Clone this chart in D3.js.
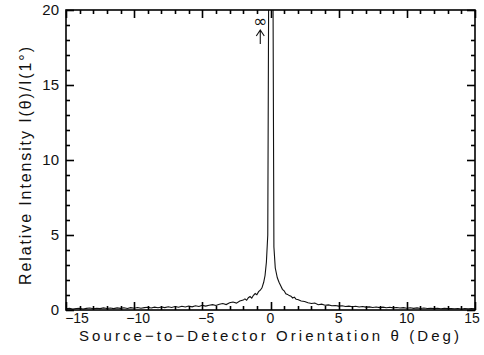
<!DOCTYPE html>
<html>
<head>
<meta charset="utf-8">
<script src="https://cdn.jsdelivr.net/npm/d3@7"></script>
</head>
<body style="margin:0">
<svg id="chart" width="484" height="355"></svg>
<script>
// angle (deg) and relative intensity
var theta = [
  -15, -14.75, -14.5, -14.25, -14, -13.75, -13.5, -13.25, -13, -12.75, -12.5, -12.25,
  -12, -11.75, -11.5, -11.25, -11, -10.75, -10.5, -10.25, -10, -9.75, -9.5, -9.25,
  -9, -8.75, -8.5, -8.25, -8, -7.75, -7.5, -7.25, -7, -6.75, -6.5, -6.25,
  -6, -5.75, -5.5, -5.25, -5, -4.75, -4.5, -4.25, -4, -3.75, -3.5, -3.25,
  -3, -2.75, -2.5, -2.25, -2, -1.875, -1.75, -1.625, -1.5, -1.375, -1.25, -1.125,
  -1, -0.875, -0.75, -0.625, -0.5, -0.4, -0.3, -0.2, -0.1,
  0.15, 0.25, 0.35, 0.5, 0.625, 0.75, 0.875, 1, 1.125, 1.25, 1.375, 1.5, 1.625, 1.75, 1.875,
  2, 2.25, 2.5, 2.75, 3, 3.25, 3.5, 3.75, 4, 4.25, 4.5, 4.75,
  5, 5.25, 5.5, 5.75, 6, 6.25, 6.5, 6.75, 7, 7.25, 7.5, 7.75,
  8, 8.25, 8.5, 8.75, 9, 9.25, 9.5, 9.75, 10, 10.25, 10.5, 10.75,
  11, 11.25, 11.5, 11.75, 12, 12.25, 12.5, 12.75, 13, 13.25, 13.5, 13.75,
  14, 14.25, 14.5, 14.75, 15
];
var intensity = [
  0.08, 0.11, 0.06, 0.10, 0.12, 0.07, 0.11, 0.13, 0.08, 0.12, 0.09, 0.14,
  0.10, 0.13, 0.09, 0.14, 0.11, 0.15, 0.10, 0.16, 0.12, 0.17, 0.12, 0.16,
  0.18, 0.13, 0.19, 0.15, 0.20, 0.16, 0.22, 0.17, 0.23, 0.18, 0.25, 0.20,
  0.27, 0.21, 0.28, 0.23, 0.31, 0.26, 0.32, 0.36, 0.30, 0.38, 0.43, 0.36,
  0.48, 0.53, 0.46, 0.60, 0.66, 0.74, 0.65, 0.82, 0.90, 0.79, 0.98, 1.10,
  1.02, 1.22, 1.32, 1.48, 1.85, 2.30, 3.20, 5.00, 30,
  30, 4.20, 2.80, 2.15, 1.85, 1.62, 1.38, 1.28, 1.08, 1.04, 0.96, 0.92, 0.80, 0.86, 0.72,
  0.70, 0.60, 0.57, 0.48, 0.43, 0.47, 0.35, 0.39, 0.32, 0.34, 0.28, 0.30,
  0.26, 0.28, 0.23, 0.26, 0.22, 0.25, 0.20, 0.23, 0.19, 0.21, 0.17, 0.20,
  0.16, 0.19, 0.15, 0.18, 0.14, 0.17, 0.13, 0.16, 0.12, 0.15, 0.11, 0.14,
  0.10, 0.13, 0.10, 0.12, 0.09, 0.12, 0.08, 0.11, 0.09, 0.10, 0.08, 0.10,
  0.07, 0.09, 0.08, 0.10, 0.08
];
var xMajor = [-15, -10, -5, 0, 5, 10, 15];
var yMajor = [0, 5, 10, 15, 20];

const svg = d3.select('#chart');
const x = d3.scaleLinear().domain([-15, 15]).range([66, 475]);
const y = d3.scaleLinear().domain([0, 20]).range([310, 10]);
const font = '"Liberation Sans", Arial, sans-serif';

const xMinor = d3.range(-15, 16, 1).filter(v => v % 5 !== 0);
const yMinor = d3.range(0, 21, 1).filter(v => v % 5 !== 0);

const pLeft = 66, pRight = 475, pBottom = 310, pTop = 10;

svg.append('defs').append('clipPath').attr('id', 'plotclip')
  .append('rect')
    .attr('x', pLeft).attr('y', pTop)
    .attr('width', pRight - pLeft).attr('height', pBottom - pTop);

// curve, cut at the top of the frame (the peak runs off to infinity)
const data = theta.map((t, i) => ({t: t, v: intensity[i]}));
svg.append('path')
  .datum(data)
  .attr('clip-path', 'url(#plotclip)')
  .attr('fill', 'none')
  .attr('stroke', '#111')
  .attr('stroke-width', 1.1)
  .attr('d', d3.line().x(d => x(d.t)).y(d => y(d.v)));

// frame
svg.append('rect')
  .attr('x', pLeft).attr('y', pTop)
  .attr('width', pRight - pLeft).attr('height', pBottom - pTop)
  .attr('fill', 'none').attr('stroke', '#000').attr('stroke-width', 1.6);

// inward ticks on all four sides
const g = svg.append('g');
const tx = v => Math.round(x(v)) + 0.5;
const ty = v => Math.round(y(v)) + 0.5;
const addX = (v, len) => {
  g.append('line').attr('x1', tx(v)).attr('x2', tx(v)).attr('y1', pBottom).attr('y2', pBottom - len)
    .attr('stroke', '#000').attr('stroke-width', 1.6);
  g.append('line').attr('x1', tx(v)).attr('x2', tx(v)).attr('y1', pTop).attr('y2', pTop + len)
    .attr('stroke', '#000').attr('stroke-width', 1.6);
};
const addY = (v, len) => {
  g.append('line').attr('y1', ty(v)).attr('y2', ty(v)).attr('x1', pLeft).attr('x2', pLeft + len)
    .attr('stroke', '#000').attr('stroke-width', 1.6);
  g.append('line').attr('y1', ty(v)).attr('y2', ty(v)).attr('x1', pRight).attr('x2', pRight - len)
    .attr('stroke', '#000').attr('stroke-width', 1.6);
};
xMajor.forEach(v => addX(v, 8));
xMinor.forEach(v => addX(v, 4));
yMajor.forEach(v => addY(v, 8));
yMinor.forEach(v => addY(v, 4));

// tick labels
xMajor.forEach(v => {
  svg.append('text')
    .attr('x', x(v) + (v === -15 ? 11 : (v === 15 ? -3 : (v < 0 ? 4 : 0))))
    .attr('y', 323)
    .attr('text-anchor', 'middle').attr('font-size', 14)
    .style('font-family', font).attr('fill', '#111')
    .text(v < 0 ? '\u2212' + Math.abs(v) : v);
});
yMajor.forEach(v => {
  svg.append('text')
    .attr('x', 59).attr('y', y(v) + 5)
    .attr('text-anchor', 'end').attr('font-size', 15)
    .style('font-family', font).attr('fill', '#111')
    .text(v);
});

// infinity marker above the peak
const ax = x(-0.75);
svg.append('text')
  .attr('x', ax).attr('y', 27)
  .attr('text-anchor', 'middle').attr('font-size', 17)
  .style('font-family', '"DejaVu Sans", sans-serif').attr('fill', '#111')
  .text('\u221E');
svg.append('path')
  .attr('d', 'M' + ax + ',44 V30 M' + (ax - 4) + ',36 L' + ax + ',30 L' + (ax + 4) + ',36')
  .attr('fill', 'none').attr('stroke', '#111').attr('stroke-width', 1.1);

// axis titles
svg.append('text')
  .attr('x', 269).attr('y', 341)
  .attr('text-anchor', 'middle').attr('font-size', 15)
  .style('font-family', font).attr('fill', '#111')
  .attr('textLength', 380).attr('lengthAdjust', 'spacing')
  .text('Source\u2212to\u2212Detector Orientation \u03B8 (Deg)');

svg.append('text')
  .attr('transform', 'translate(31,166) rotate(-90)')
  .attr('text-anchor', 'middle').attr('font-size', 16)
  .style('font-family', font).attr('fill', '#111')
  .attr('textLength', 238).attr('lengthAdjust', 'spacing')
  .text('Relative Intensity I(\u03B8)/I(1\u00B0)');
</script>
</body>
</html>
